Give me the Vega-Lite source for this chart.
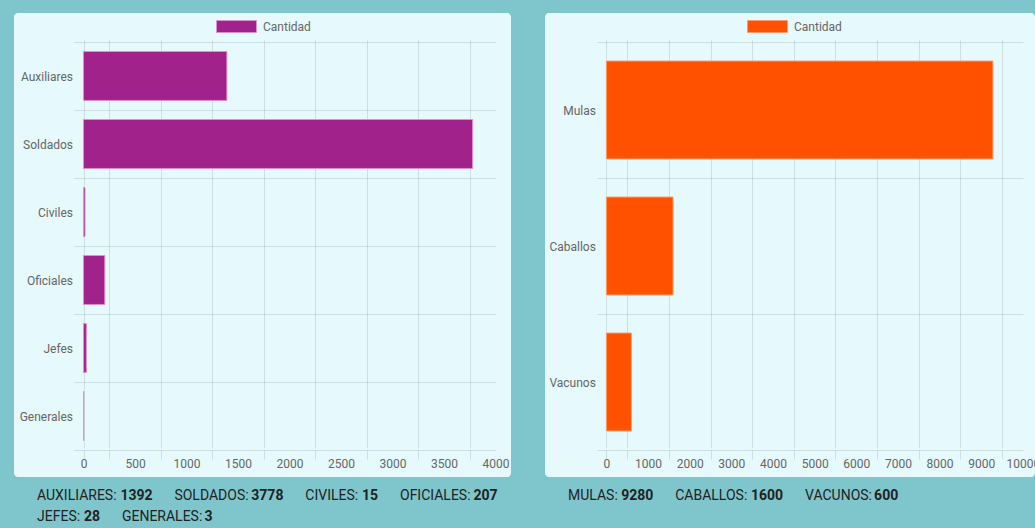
{
  "$schema": "https://vega.github.io/schema/vega-lite/v6.json",
  "background": "#7ec6cc",
  "padding": {"left": 14, "top": 7, "right": 0, "bottom": 0},
  "datasets": {
    "personal": [
      {"categoria": "Auxiliares", "cantidad": 1392},
      {"categoria": "Soldados", "cantidad": 3778},
      {"categoria": "Civiles", "cantidad": 15},
      {"categoria": "Oficiales", "cantidad": 207},
      {"categoria": "Jefes", "cantidad": 28},
      {"categoria": "Generales", "cantidad": 3}
    ],
    "animales": [
      {"categoria": "Mulas", "cantidad": 9280},
      {"categoria": "Caballos", "cantidad": 1600},
      {"categoria": "Vacunos", "cantidad": 600}
    ]
  },
  "columns": 2,
  "spacing": {"row": 0, "column": 34},
  "concat": [
    {
      "width": 497,
      "height": 464,
      "view": {"fill": "#e6f9fc", "cornerRadius": 4, "stroke": null},
      "data": {"name": "personal"},
      "encoding": {
        "y": {
          "field": "categoria", "type": "nominal", "sort": null,
          "scale": {"range": [29, 437], "paddingInner": 0, "paddingOuter": 0},
          "axis": {
            "title": null, "orient": "left", "offset": -69.5, "tickBand": "extent",
            "grid": true, "gridColor": "rgba(0,0,0,0.1)", "tickColor": "rgba(0,0,0,0.1)",
            "tickSize": 10, "domain": false, "labelPadding": 1, "labelColor": "#666",
            "labelFontSize": 12, "labelFont": "Roboto"
          }
        }
      },
      "layer": [
        {
          "mark": {"type": "bar", "height": {"band": 0.72}, "stroke": "#d993cf", "strokeWidth": 1},
          "encoding": {
            "x": {
              "field": "cantidad", "type": "quantitative",
              "scale": {"domain": [0, 4000], "range": [69.5, 481.5], "nice": false, "zero": false},
              "axis": {
                "title": null, "orient": "bottom", "offset": -27,
                "values": [0, 250, 750, 1250, 1750, 2250, 2750, 3250, 3750],
                "labels": false, "grid": true, "gridColor": "rgba(0,0,0,0.1)",
                "ticks": true, "tickSize": 9, "tickColor": "rgba(0,0,0,0.1)", "domain": false
              }
            },
            "color": {
              "datum": "Cantidad", "type": "nominal",
              "scale": {"range": ["#a2228b"]},
              "legend": {
                "title": null, "orient": "none", "legendX": 216, "legendY": 7, "padding": 0,
                "symbolType": "M-3.333,-1H3.333V1H-3.333Z", "symbolSize": 144,
                "symbolStrokeColor": "#d993cf", "symbolStrokeWidth": 1,
                "labelOffset": 20, "labelFontSize": 12, "labelColor": "#666", "labelFont": "Roboto"
              }
            }
          }
        },
        {
          "mark": {"type": "bar", "opacity": 0},
          "encoding": {
            "x": {
              "field": "cantidad", "type": "quantitative",
              "scale": {"domain": [0, 4000], "range": [69.5, 481.5], "nice": false, "zero": false},
              "axis": {
                "title": null, "orient": "bottom", "offset": -27, "format": "d",
                "values": [0, 500, 1000, 1500, 2000, 2500, 3000, 3500, 4000],
                "grid": false, "ticks": false, "tickSize": 0, "domain": false,
                "labelPadding": 8, "labelFlush": false, "labelOverlap": false, "labelBound": false,
                "labelColor": "#666", "labelFontSize": 12, "labelFont": "Roboto"
              }
            }
          }
        }
      ],
      "resolve": {"axis": {"x": "independent"}}
    },
    {
      "width": 490,
      "height": 464,
      "view": {"fill": "#e6f9fc", "cornerRadius": 4, "stroke": null},
      "data": {"name": "animales"},
      "encoding": {
        "y": {
          "field": "categoria", "type": "nominal", "sort": null,
          "scale": {"range": [29, 437], "paddingInner": 0, "paddingOuter": 0},
          "axis": {
            "title": null, "orient": "left", "offset": -61.4, "tickBand": "extent",
            "grid": true, "gridColor": "rgba(0,0,0,0.1)", "tickColor": "rgba(0,0,0,0.1)",
            "tickSize": 10, "domain": false, "labelPadding": 1, "labelColor": "#666",
            "labelFontSize": 12, "labelFont": "Roboto"
          }
        }
      },
      "layer": [
        {
          "mark": {"type": "bar", "height": {"band": 0.72}, "stroke": "#ff9a66", "strokeWidth": 1},
          "encoding": {
            "x": {
              "field": "cantidad", "type": "quantitative",
              "scale": {"domain": [0, 10000], "range": [61.4, 477.9], "nice": false, "zero": false},
              "axis": {
                "title": null, "orient": "bottom", "offset": -27,
                "values": [0, 500, 1500, 2500, 3500, 4500, 5500, 6500, 7500, 8500, 9500],
                "labels": false, "grid": true, "gridColor": "rgba(0,0,0,0.1)",
                "ticks": true, "tickSize": 9, "tickColor": "rgba(0,0,0,0.1)", "domain": false
              }
            },
            "color": {
              "datum": "Cantidad", "type": "nominal",
              "scale": {"range": ["#ff5100"]},
              "legend": {
                "title": null, "orient": "none", "legendX": 216, "legendY": 7, "padding": 0,
                "symbolType": "M-3.333,-1H3.333V1H-3.333Z", "symbolSize": 144,
                "symbolStrokeColor": "#ff9a66", "symbolStrokeWidth": 1,
                "labelOffset": 20, "labelFontSize": 12, "labelColor": "#666", "labelFont": "Roboto"
              }
            }
          }
        },
        {
          "mark": {"type": "bar", "opacity": 0},
          "encoding": {
            "x": {
              "field": "cantidad", "type": "quantitative",
              "scale": {"domain": [0, 10000], "range": [61.4, 477.9], "nice": false, "zero": false},
              "axis": {
                "title": null, "orient": "bottom", "offset": -27, "format": "d",
                "values": [0, 1000, 2000, 3000, 4000, 5000, 6000, 7000, 8000, 9000, 10000],
                "grid": false, "ticks": false, "tickSize": 0, "domain": false,
                "labelPadding": 8, "labelFlush": false, "labelOverlap": false, "labelBound": false,
                "labelColor": "#666", "labelFontSize": 12, "labelFont": "Roboto"
              }
            }
          }
        }
      ],
      "resolve": {"axis": {"x": "independent"}}
    },
    {
      "width": 497,
      "height": 51,
      "data": {"name": "personal"},
      "transform": [
        {"calculate": "upper(datum.categoria) + ':'", "as": "lab"},
        {"calculate": "toString(datum.cantidad)", "as": "num"},
        {"calculate": "8.9*length(datum.lab) - 5.1*(length(datum.lab)-length(replace(datum.lab, regexp('I','g'), ''))) - 5.6 - 1.1*(length(datum.lab)-length(replace(datum.lab, regexp('[EFLJ]','g'), ''))) + 3*(length(datum.lab)-length(replace(datum.lab, regexp('M','g'), '')))", "as": "wl"},
        {"calculate": "datum.wl + 3.5 + 8*length(datum.num) + 22", "as": "w"},
        {"window": [{"op": "sum", "field": "w", "as": "fin"}], "frame": [null, 0]},
        {"calculate": "datum.fin - 22 > 474 ? 2 : 1", "as": "linea"},
        {"window": [{"op": "sum", "field": "w", "as": "fin2"}], "frame": [null, 0], "groupby": ["linea"]},
        {"calculate": "23 + datum.fin2 - datum.w", "as": "xl"},
        {"calculate": "datum.xl + datum.wl + 3.5", "as": "xn"}
      ],
      "encoding": {
        "y": {"field": "linea", "type": "ordinal", "scale": {"type": "point", "domain": [1, 2], "range": [19, 40], "padding": 0}, "axis": null}
      },
      "layer": [
        {
          "mark": {"type": "text", "align": "left", "baseline": "middle", "fontSize": 14, "font": "Roboto", "fill": "#222"},
          "encoding": {
            "x": {"field": "xl", "type": "quantitative", "scale": {"domain": [0, 497], "range": [0, 497], "nice": false, "zero": false}, "axis": null},
            "text": {"field": "lab"}
          }
        },
        {
          "mark": {"type": "text", "align": "left", "baseline": "middle", "fontSize": 14, "font": "Roboto", "fontWeight": "bold", "fill": "#222"},
          "encoding": {
            "x": {"field": "xn", "type": "quantitative", "scale": {"domain": [0, 497], "range": [0, 497], "nice": false, "zero": false}, "axis": null},
            "text": {"field": "num"}
          }
        }
      ]
    },
    {
      "width": 490,
      "height": 51,
      "data": {"name": "animales"},
      "transform": [
        {"calculate": "upper(datum.categoria) + ':'", "as": "lab"},
        {"calculate": "toString(datum.cantidad)", "as": "num"},
        {"calculate": "8.9*length(datum.lab) - 5.1*(length(datum.lab)-length(replace(datum.lab, regexp('I','g'), ''))) - 5.6 - 1.1*(length(datum.lab)-length(replace(datum.lab, regexp('[EFLJ]','g'), ''))) + 3*(length(datum.lab)-length(replace(datum.lab, regexp('M','g'), '')))", "as": "wl"},
        {"calculate": "datum.wl + 3.5 + 8*length(datum.num) + 22", "as": "w"},
        {"window": [{"op": "sum", "field": "w", "as": "fin"}], "frame": [null, 0]},
        {"calculate": "datum.fin - 22 > 467 ? 2 : 1", "as": "linea"},
        {"window": [{"op": "sum", "field": "w", "as": "fin2"}], "frame": [null, 0], "groupby": ["linea"]},
        {"calculate": "23 + datum.fin2 - datum.w", "as": "xl"},
        {"calculate": "datum.xl + datum.wl + 3.5", "as": "xn"}
      ],
      "encoding": {
        "y": {"field": "linea", "type": "ordinal", "scale": {"type": "point", "domain": [1, 2], "range": [19, 40], "padding": 0}, "axis": null}
      },
      "layer": [
        {
          "mark": {"type": "text", "align": "left", "baseline": "middle", "fontSize": 14, "font": "Roboto", "fill": "#222"},
          "encoding": {
            "x": {"field": "xl", "type": "quantitative", "scale": {"domain": [0, 490], "range": [0, 490], "nice": false, "zero": false}, "axis": null},
            "text": {"field": "lab"}
          }
        },
        {
          "mark": {"type": "text", "align": "left", "baseline": "middle", "fontSize": 14, "font": "Roboto", "fontWeight": "bold", "fill": "#222"},
          "encoding": {
            "x": {"field": "xn", "type": "quantitative", "scale": {"domain": [0, 490], "range": [0, 490], "nice": false, "zero": false}, "axis": null},
            "text": {"field": "num"}
          }
        }
      ]
    }
  ],
  "resolve": {"scale": {"color": "independent", "x": "independent", "y": "independent"}, "legend": {"color": "independent"}},
  "config": {
    "view": {"stroke": null},
    "font": "Roboto",
    "axis": {"labelFont": "Roboto"},
    "legend": {"labelFont": "Roboto"}
  }
}
